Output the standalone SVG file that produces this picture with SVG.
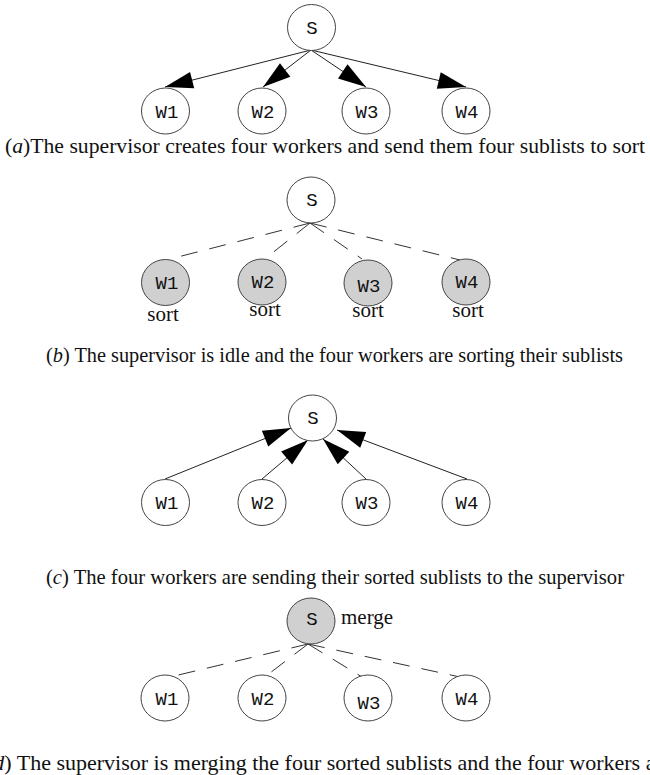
<svg xmlns="http://www.w3.org/2000/svg" width="650" height="775" viewBox="0 0 650 775">
<style>
.n{fill:#fff;stroke:#444;stroke-width:1}
.g{fill:#d0d0d0;stroke:#444;stroke-width:1}
.t{font-family:"Liberation Mono","DejaVu Sans Mono",monospace;font-size:19px;fill:#111;text-anchor:middle}
.c{font-family:"Liberation Serif","Times New Roman",serif;font-size:21px;fill:#111}
.l{font-family:"Liberation Serif","Times New Roman",serif;font-size:21px;fill:#111;text-anchor:middle}
.e{stroke:#222;stroke-width:1;fill:none}
.d{stroke:#333;stroke-width:1;fill:none;stroke-dasharray:17 12}
</style>
<defs>
<marker id="ah" markerUnits="userSpaceOnUse" markerWidth="30" markerHeight="20" viewBox="-29 -10 29 20" refX="0" refY="0" orient="auto">
<path d="M0,0 L-28,-8.5 L-28,8.5 Z" fill="#000"/>
</marker>
</defs>

<g id="connectors">
<g id="edges-a">
<line class="e" x1="311" y1="50" x2="165" y2="87" marker-end="url(#ah)"/>
<line class="e" x1="311" y1="50" x2="263" y2="87" marker-end="url(#ah)"/>
<line class="e" x1="311" y1="50" x2="366" y2="87" marker-end="url(#ah)"/>
<line class="e" x1="311" y1="50" x2="466" y2="87" marker-end="url(#ah)"/>
</g>
<g id="edges-b">
<line class="d" x1="310" y1="223" x2="170" y2="259"/>
<line class="d" x1="310" y1="223" x2="266" y2="258"/>
<line class="d" x1="310" y1="223" x2="362" y2="259"/>
<line class="d" x1="310" y1="223" x2="460" y2="260"/>
</g>
<g id="edges-c">
<line class="e" x1="165" y1="479" x2="291" y2="428" marker-end="url(#ah)"/>
<line class="e" x1="262" y1="479" x2="308" y2="440" marker-end="url(#ah)"/>
<line class="e" x1="366" y1="479" x2="323" y2="439" marker-end="url(#ah)"/>
<line class="e" x1="467" y1="479" x2="337" y2="430" marker-end="url(#ah)"/>
</g>
<g id="edges-d">
<line class="d" x1="308" y1="644" x2="170" y2="677"/>
<line class="d" x1="308" y1="644" x2="266" y2="676"/>
<line class="d" x1="308" y1="644" x2="362" y2="677"/>
<line class="d" x1="308" y1="644" x2="460" y2="677"/>
</g>
</g>

<!-- panel a -->
<g id="a-S"><ellipse class="n" cx="311.5" cy="27.5" rx="24" ry="23"/><text class="t" x="312" y="34">S</text></g>
<g id="a-W1"><ellipse class="n" cx="165.5" cy="111" rx="24" ry="23"/><text class="t" x="167" y="118">W1</text></g>
<g id="a-W2"><ellipse class="n" cx="262" cy="111" rx="24" ry="23"/><text class="t" x="263" y="118">W2</text></g>
<g id="a-W3"><ellipse class="n" cx="366" cy="111" rx="24" ry="23"/><text class="t" x="367" y="118">W3</text></g>
<g id="a-W4"><ellipse class="n" cx="466" cy="111" rx="24" ry="23"/><text class="t" x="467" y="118">W4</text></g>
<text id="cap-a" class="c" x="5" y="153" textLength="640" lengthAdjust="spacingAndGlyphs">(<tspan font-style="italic">a</tspan>)The supervisor creates four workers and send them four sublists to sort</text>

<!-- panel b -->
<g id="b-S"><ellipse class="n" cx="311" cy="200" rx="24" ry="23"/><text class="t" x="312" y="206">S</text></g>
<g id="b-W1"><ellipse class="g" cx="165.5" cy="282.5" rx="24" ry="23"/><text class="t" x="167" y="289">W1</text><text class="l" x="163" y="321">sort</text></g>
<g id="b-W2"><ellipse class="g" cx="262" cy="282" rx="24" ry="23"/><text class="t" x="263" y="288">W2</text><text class="l" x="265" y="316">sort</text></g>
<g id="b-W3"><ellipse class="g" cx="368" cy="283" rx="24" ry="23"/><text class="t" x="369" y="292">W3</text><text class="l" x="368" y="317">sort</text></g>
<g id="b-W4"><ellipse class="g" cx="466" cy="282" rx="24" ry="23"/><text class="t" x="467" y="288">W4</text><text class="l" x="468" y="317">sort</text></g>
<text id="cap-b" class="c" x="46" y="362" textLength="577" lengthAdjust="spacingAndGlyphs">(<tspan font-style="italic">b</tspan>) The supervisor is idle and the four workers are sorting their sublists</text>

<!-- panel c -->
<g id="c-S"><ellipse class="n" cx="312.5" cy="418" rx="24" ry="23"/><text class="t" x="313" y="424">S</text></g>
<g id="c-W1"><ellipse class="n" cx="165.5" cy="502.5" rx="24" ry="23"/><text class="t" x="167" y="509">W1</text></g>
<g id="c-W2"><ellipse class="n" cx="262" cy="502.5" rx="24" ry="23"/><text class="t" x="263" y="509">W2</text></g>
<g id="c-W3"><ellipse class="n" cx="366" cy="502.5" rx="24" ry="23"/><text class="t" x="367" y="509">W3</text></g>
<g id="c-W4"><ellipse class="n" cx="466" cy="502.5" rx="24" ry="23"/><text class="t" x="467" y="509">W4</text></g>
<text id="cap-c" class="c" x="46" y="584" textLength="578" lengthAdjust="spacingAndGlyphs">(<tspan font-style="italic">c</tspan>) The four workers are sending their sorted sublists to the supervisor</text>

<!-- panel d -->
<g id="d-S"><ellipse class="g" cx="311" cy="621" rx="24" ry="23"/><text class="t" x="312" y="625">S</text><text class="c" x="341" y="624">merge</text></g>
<g id="d-W1"><ellipse class="n" cx="165" cy="698" rx="24" ry="23"/><text class="t" x="167" y="705">W1</text></g>
<g id="d-W2"><ellipse class="n" cx="262" cy="698" rx="24" ry="23"/><text class="t" x="263" y="705">W2</text></g>
<g id="d-W3"><ellipse class="n" cx="368" cy="698" rx="24" ry="23"/><text class="t" x="369" y="709">W3</text></g>
<g id="d-W4"><ellipse class="n" cx="466" cy="698" rx="24" ry="23"/><text class="t" x="467" y="705">W4</text></g>
<text id="cap-d" class="c" x="-14" y="770" style="font-size:22px">(<tspan font-style="italic">d</tspan>) The supervisor is merging the four sorted sublists and the four workers a</text>
</svg>
